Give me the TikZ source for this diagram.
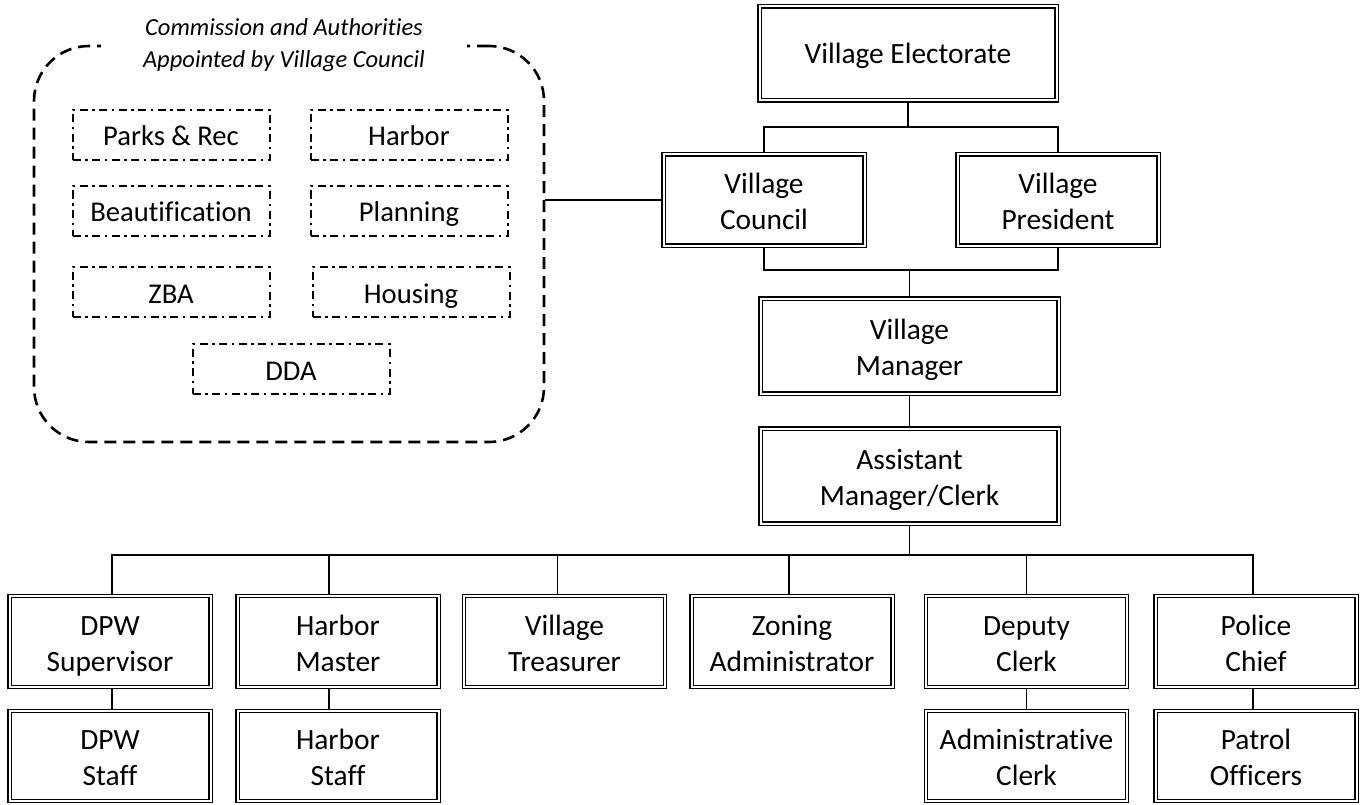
\documentclass[tikz,border=0pt]{standalone}
\usepackage{fontspec}
\setmainfont{Carlito}[Ligatures=CommonOff]
\newcommand{\mystrut}{\rule[-10pt]{0pt}{40pt}}
\newcommand{\ddstrut}{\rule[-8pt]{0pt}{38pt}}
\newcommand{\bx}[2]{\parbox[c][80pt][c]{190pt}{\centering\lineskiplimit=-100pt\relax
  \rule[-10pt]{0pt}{43pt}#1\\\rule[-10pt]{0pt}{36pt}#2}}
\begin{document}
\begin{tikzpicture}[x=1pt,y=-1pt,
  txt/.style={font=\fontsize{29.4}{36}\selectfont, align=center, inner sep=0pt},
  dbox/.style={txt, draw, line width=1.3pt, double, double distance=2pt, outer sep=2.3pt, fill=white},
  ddbox/.style={font=\fontsize{28.6}{34}\selectfont, align=center, inner sep=0pt, draw, line width=2pt,
    dash pattern=on 8pt off 4.5pt on 2.5pt off 4.5pt, minimum width=197pt, minimum height=50pt,
    execute at begin node=\ddstrut},
  conn/.style={line width=1.3pt},
  bigdash/.style={draw, line width=2.6pt, dash pattern=on 12pt off 7pt, rounded corners=55pt}
]
\useasboundingbox (0,0) rectangle (1367,805);

% commission box
\node[bigdash, minimum width=510pt, minimum height=396pt, inner sep=0pt] (com) at (289,244) {};
\node[font=\fontsize{24.5}{32.5}\selectfont\itshape, align=center, fill=white, inner xsep=42pt, inner ysep=2pt] (title) at (284,45) {Commission and Authorities\\Appointed by Village Council};

\node[ddbox] (parks) at (171,135) {Parks \& Rec};
\node[ddbox] (harb) at (409,135) {Harbor};
\node[ddbox] (beaut) at (171,211) {Beautification};
\node[ddbox] (plan) at (409,211) {Planning};
\node[ddbox] (zba) at (171,292) {ZBA};
\node[ddbox] (hous) at (411,292) {Housing};
\node[ddbox] (dda) at (291,369) {DDA};

% main hierarchy
\node[dbox, execute at begin node=\mystrut, execute at end node=\mystrut, minimum width=297pt, minimum height=94pt] (el) at (908,53.5) {Village Electorate};
\node[dbox, minimum width=201pt, minimum height=91pt] (vc) at (764,200) {\bx{Village}{Council}};
\node[dbox, minimum width=201pt, minimum height=91pt] (vp) at (1058,200) {\bx{Village}{President}};
\node[dbox, minimum width=298pt, minimum height=95pt] (vm) at (909.5,346) {\bx{Village}{Manager}};
\node[dbox, minimum width=298pt, minimum height=95pt] (am) at (909.5,476) {\bx{Assistant}{Manager/Clerk}};

\foreach \n/\x/\t in {dpw/110/{\bx{DPW}{Supervisor}}, hm/338/{\bx{Harbor}{Master}}, vt/564.5/{\bx{Village}{Treasurer}}, za/792/{\bx{Zoning}{Administrator}}, dc/1026.5/{\bx{Deputy}{Clerk}}, pc/1256/{\bx{Police}{Chief}}}
  \node[dbox, minimum width=201pt, minimum height=91pt] (\n) at (\x,641.5) {\t};

\node[dbox, minimum width=201pt, minimum height=90pt] (dps) at (110,756) {\bx{DPW}{Staff}};
\node[dbox, minimum width=201pt, minimum height=90pt] (hs) at (338,756) {\bx{Harbor}{Staff}};
\node[dbox, minimum width=201pt, minimum height=90pt] (ac) at (1026.5,756) {\bx{Administrative}{Clerk}};
\node[dbox, minimum width=201pt, minimum height=90pt] (po) at (1256,756) {\bx{Patrol}{Officers}};

% connectors
\coordinate (b1) at (908,127);
\coordinate (b2) at (909.5,270);
\coordinate (b3) at (909.5,555);
\begin{scope}[conn]
\draw (el.south) -- (b1);
\draw (vc.north) |- (b1) -| (vp.north);
\draw (vc.south) |- (b2) -| (vp.south);
\draw (b2) -- (vm.north);
\draw (vm.south) -- (am.north);
\draw (am.south) -- (b3);
\draw ([xshift=2pt]dpw.north) |- (b3) -| ([xshift=-3pt]pc.north);
\draw ([xshift=-9pt]hm.north) -- ([xshift=-9pt]hm.north |- b3);
\draw ([xshift=-7pt]vt.north) -- ([xshift=-7pt]vt.north |- b3);
\draw ([xshift=-3pt]za.north) -- ([xshift=-3pt]za.north |- b3);
\draw (dc.north) -- (dc.north |- b3);
\draw ([xshift=2pt]dpw.south) -- ([xshift=2pt]dps.north);
\draw ([xshift=-9pt]hm.south) -- ([xshift=-9pt]hs.north);
\draw (dc.south) -- (ac.north);
\draw ([xshift=-3pt]pc.south) -- ([xshift=-3pt]po.north);
\draw (vc.west -| com.east) -- (vc.west);
\end{scope}
\end{tikzpicture}
\end{document}
